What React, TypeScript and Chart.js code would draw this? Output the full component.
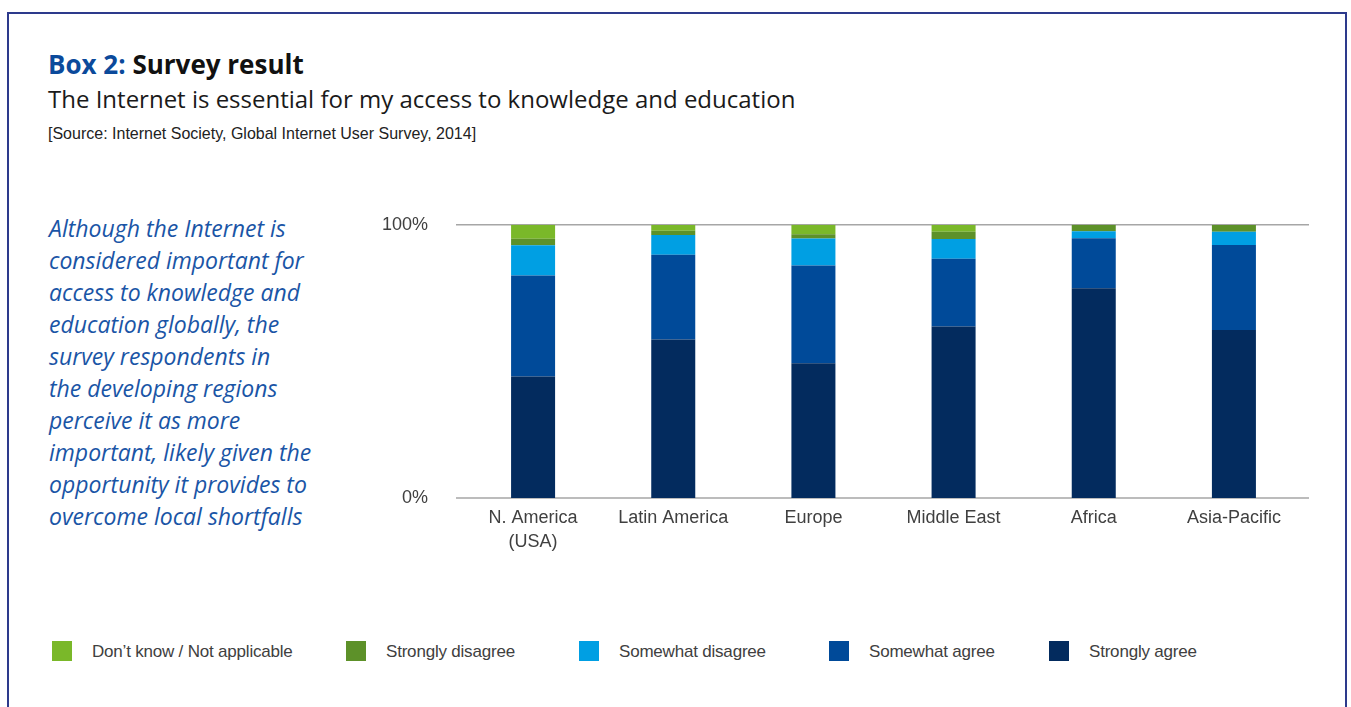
import React, { useEffect, useRef } from "react";
import { Chart, registerables } from "chart.js";

Chart.register(...registerables);

const categories: (string | string[])[] = [["N. America", "(USA)"], "Latin America", "Europe", "Middle East", "Africa", "Asia-Pacific"];
const stronglyAgree = [44.5, 58.0, 49.3, 62.8, 76.8, 61.5];
const somewhatAgree = [36.9, 31.0, 35.8, 24.8, 18.3, 31.1];
const somewhatDisagree = [11.1, 7.3, 9.9, 7.2, 2.5, 4.9];
const stronglyDisagree = [2.4, 1.5, 1.5, 2.7, 2.4, 2.4];
const dontKnow = [5.1, 2.1, 3.5, 2.4, 0, 0];
const yTickValues = [0, 100];

const seriesNames = ["Strongly agree", "Somewhat agree", "Somewhat disagree", "Strongly disagree", "Don\u2019t know / Not applicable"];
const seriesColors = ["#032b5e", "#004a99", "#009fe3", "#5d9129", "#7ab829"];
const seriesData = [stronglyAgree, somewhatAgree, somewhatDisagree, stronglyDisagree, dontKnow];

const legendOrder = [4, 3, 2, 1, 0];
const legendLefts = [52, 346, 579, 829, 1049];

const introLines = [
  "Although the Internet is",
  "considered important for",
  "access to knowledge and",
  "education globally, the",
  "survey respondents in",
  "the developing regions",
  "perceive it as more",
  "important, likely given the",
  "opportunity it provides to",
  "overcome local shortfalls",
];

const baseLines = {
  id: "baseLines",
  beforeDatasetsDraw(chart: any) {
    const { ctx, chartArea, scales } = chart;
    ctx.save();
    ctx.strokeStyle = "#a6a6a6";
    ctx.lineWidth = 1.5;
    for (const v of yTickValues) {
      const py = scales.y.getPixelForValue(v);
      ctx.beginPath();
      ctx.moveTo(chartArea.left - 7, py);
      ctx.lineTo(chartArea.right + 5, py);
      ctx.stroke();
    }
    ctx.restore();
  },
};

export default function App() {
  const canvasRef = useRef<HTMLCanvasElement | null>(null);

  useEffect(() => {
    if (!canvasRef.current) return;
    const chart = new Chart(canvasRef.current, {
      type: "bar",
      data: {
        labels: categories as any,
        datasets: seriesData.map((d, i) => ({
          label: seriesNames[i],
          data: d,
          backgroundColor: seriesColors[i],
          borderWidth: 0,
          barPercentage: 0.314,
          categoryPercentage: 1,
        })),
      },
      options: {
        responsive: false,
        animation: false,
        layout: { padding: { top: 3, right: 16, left: 0, bottom: 0 } },
        plugins: {
          legend: { display: false },
          tooltip: { enabled: false },
        },
        scales: {
          x: {
            stacked: true,
            grid: { display: false, drawTicks: false },
            border: { display: false },
            ticks: {
              color: "#404040",
              padding: 8,
              maxRotation: 0,
              autoSkip: false,
              font: { family: "'Liberation Sans', Arial, sans-serif", size: 18, lineHeight: 1.33 },
            },
            afterFit: (s: any) => {
              s.height = 62;
            },
          },
          y: {
            stacked: true,
            min: 0,
            max: 100,
            grid: { display: false, drawTicks: false },
            border: { display: false },
            afterBuildTicks: (s: any) => {
              s.ticks = yTickValues.map((v) => ({ value: v }));
            },
            ticks: {
              color: "#404040",
              padding: 35,
              callback: (v: any) => v + "%",
              font: { family: "'Liberation Sans', Arial, sans-serif", size: 18 },
            },
            afterFit: (s: any) => {
              s.width = 103;
            },
          },
        },
      },
      plugins: [baseLines],
    });
    return () => chart.destroy();
  }, []);

  return (
    <div style={{ position: "absolute", left: 0, top: 0, width: 1351, height: 707, overflow: "hidden", background: "#ffffff" }}>
      <div style={{ position: "absolute", left: 7, top: 12, width: 1340, height: 760, border: "2px solid #2d3a8c", boxSizing: "border-box" }} />
      <div style={{ position: "absolute", left: 48, top: 51, fontFamily: "'Open Sans', sans-serif", fontWeight: 700, fontSize: 26, lineHeight: "26px", whiteSpace: "nowrap", color: "#111111" }}>
        <span style={{ color: "#0b4a9b" }}>Box 2:</span> Survey result
      </div>
      <div style={{ position: "absolute", left: 48, top: 87, fontFamily: "'Open Sans', sans-serif", fontWeight: 400, fontSize: 24, lineHeight: "24px", whiteSpace: "nowrap", color: "#1a1a1a" }}>
        The Internet is essential for my access to knowledge and education
      </div>
      <div style={{ position: "absolute", left: 48, top: 126, fontFamily: "'Liberation Sans', Arial, sans-serif", fontSize: 16, lineHeight: "16px", whiteSpace: "nowrap", color: "#222222" }}>
        [Source: Internet Society, Global Internet User Survey, 2014]
      </div>
      <div style={{ position: "absolute", left: 49, top: 212, fontFamily: "'Open Sans', sans-serif", fontStyle: "italic", fontSize: 23, lineHeight: "32px", color: "#1a55a6", whiteSpace: "nowrap" }}>
        {introLines.map((l, i) => (
          <div key={i}>{l}</div>
        ))}
      </div>
      <div style={{ position: "absolute", left: 360, top: 179, width: 960, height: 381 }}>
        <canvas ref={canvasRef} width={960} height={381} style={{ display: "block" }} />
      </div>
      {legendOrder.map((idx, i) => (
        <div key={idx} style={{ position: "absolute", left: legendLefts[i], top: 641, height: 20, display: "flex", alignItems: "center", whiteSpace: "nowrap" }}>
          <div style={{ width: 20, height: 20, background: seriesColors[idx], marginRight: 20 }} />
          <span style={{ fontFamily: "'Liberation Sans', Arial, sans-serif", fontSize: 17, color: "#404040", letterSpacing: "-0.2px", position: "relative", top: 1 }}>{seriesNames[idx]}</span>
        </div>
      ))}
    </div>
  );
}
